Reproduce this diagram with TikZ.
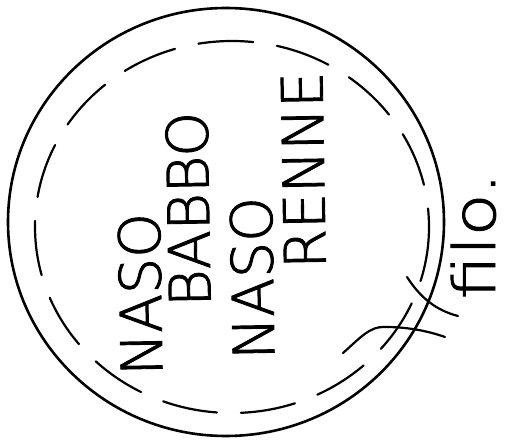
\documentclass[tikz,border=0pt]{standalone}
\usepackage{fontspec}
\newfontfamily\hand[FakeBold=1.6]{DejaVu Sans ExtraLight}
\begin{document}
\begin{tikzpicture}[x=1pt,y=-1pt,
  word/.style={font=\hand\fontsize{57}{57}\selectfont, inner sep=0pt, anchor=base, rotate=91, text height=42pt, text depth=0pt},
  stroke/.style={line width=2.2pt, line cap=round, line join=round}]
\useasboundingbox (0,0) rectangle (509,441);
% outer circle
\draw[stroke, line width=2.6pt] (226,222) ellipse [x radius=218, y radius=214];
% inner dashed circle
\draw[stroke, dash pattern=on 55pt off 24pt] (232,227) ellipse [x radius=197, y radius=186];
% words
\node[word] (w1) at (161,294) {NASO};
\node[word] (w2) at (209,209) {BABBO};
\node[word] (w3) at (273,278) {NASO};
\node[word] (w4) at (324,170) {RENNE};
% label
\node[font=\hand\fontsize{58}{58}\selectfont, inner sep=0pt, anchor=base, rotate=90, xscale=1.2] (filo) at (495,236) {filo.};
% leader strokes
\coordinate (a1) at (407,277);
\coordinate (a2) at (458,316);
\coordinate (b1) at (343,353);
\coordinate (b2) at (445,337);
\draw[stroke] (a1) .. controls (420,297) and (435,310) .. (a2);
\draw[stroke] (b1) .. controls (360,338) and (370,326) .. (385,327) .. controls (405,327) and (425,330) .. (b2);
\end{tikzpicture}
\end{document}
